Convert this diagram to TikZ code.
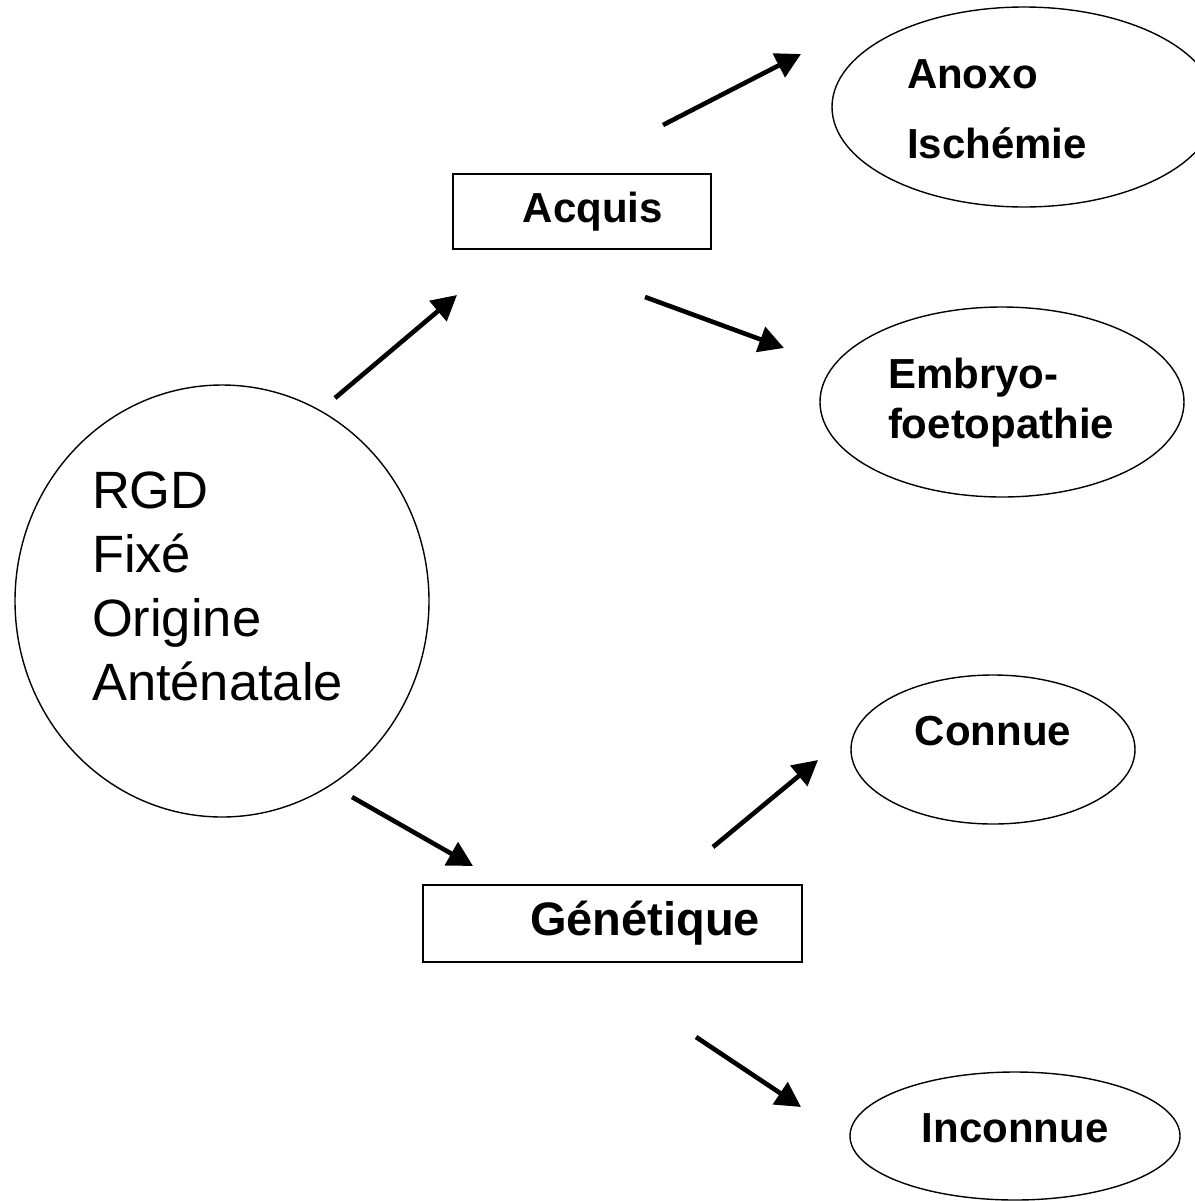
\documentclass[tikz,border=0pt]{standalone}
\usepackage{fontspec}
\setmainfont{Liberation Sans}
\usepackage{tikz}
\usetikzlibrary{arrows.meta, positioning, shapes, calc}

\begin{document}
\begin{tikzpicture}[
    x=0.5pt, y=-0.5pt,
    cause/.style={ellipse, draw, line width=0.7pt, inner sep=0pt, font=\bfseries\fontsize{21}{35}\selectfont},
    branch/.style={rectangle, draw, line width=0.9pt, inner sep=0pt, align=right},
    arrow/.style={-{Triangle[length=12.5pt, width=13pt]}, line width=2.3pt}
  ]
    \useasboundingbox (0,0) rectangle (1195,1201);
    \clip (0,0) rectangle (1195,1201);

    \node[ellipse, draw, line width=0.7pt, inner sep=0pt, minimum width=207pt, minimum height=216pt,
      text width=130pt, align=left, text height=19pt, text depth=112pt,
      font=\fontsize{26.25}{32}\selectfont] (rgd) at (222,601) {RGD\\Fixé\\Origine\\Anténatale};

    \node[branch, minimum width=129pt, minimum height=37.5pt, text width=81pt,
      text height=16pt, text depth=5.5pt, font=\bfseries\fontsize{21}{25}\selectfont] (acq) at (582,211.5) {Acquis};
    \node[branch, minimum width=189.5pt, minimum height=38.5pt, text width=147.5pt,
      text height=17pt, text depth=5.5pt, font=\bfseries\fontsize{23.5}{28}\selectfont] (gen) at (612.5,923.5) {Génétique};

    \node[cause, minimum width=192pt, minimum height=100pt, text width=117pt, align=left,
      text height=16pt, text depth=35pt] (anox) at (1024,107) {Anoxo\\Ischémie};
    \node[cause, minimum width=182pt, minimum height=95pt, text width=114pt, align=left,
      text height=16pt, text depth=30pt, font=\bfseries\fontsize{21}{25}\selectfont] (embr) at (1002,402) {Embryo-\\foetopathie};
    \node[cause, minimum width=142pt, minimum height=74.5pt,
      text height=15pt, text depth=19.5pt] (conn) at (993,749.5) {Connue};
    \node[cause, minimum width=165pt, minimum height=64pt,
      text height=15pt, text depth=9pt] (inco) at (1015,1136) {Inconnue};

    \coordinate (rgd1) at (335,398);
    \coordinate (acq0) at (457,295);
    \coordinate (rgd2) at (352,797);
    \coordinate (gen0) at (473,866);
    \coordinate (acq1) at (663,125);
    \coordinate (anox0) at (801,54);
    \coordinate (acq2) at (645,297);
    \coordinate (embr0) at (784,348);
    \coordinate (gen1) at (713,847);
    \coordinate (conn0) at (818,760);
    \coordinate (gen2) at (696,1037);
    \coordinate (inco0) at (801,1107);

    \draw[arrow] (rgd1) -- (acq0);
    \draw[arrow] (rgd2) -- (gen0);

    \draw[arrow] (acq1) -- (anox0);
    \draw[arrow] (acq2) -- (embr0);

    \draw[arrow] (gen1) -- (conn0);
    \draw[arrow] (gen2) -- (inco0);
  \end{tikzpicture}
\end{document}
